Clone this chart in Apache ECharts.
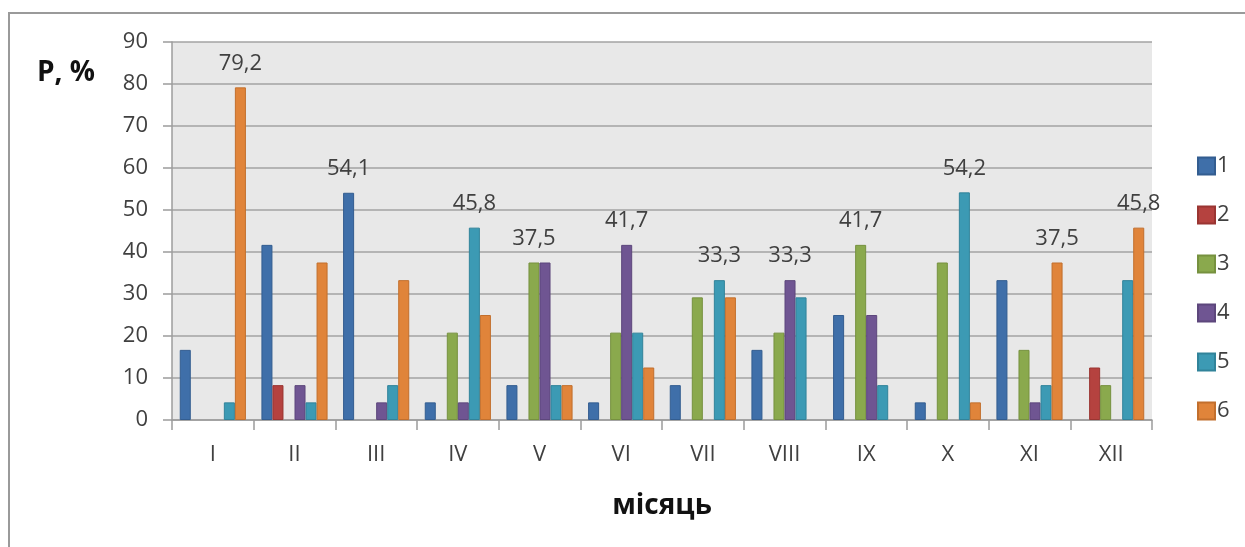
<!DOCTYPE html>
<html>
<head>
<meta charset="utf-8">
<script src="https://cdn.jsdelivr.net/npm/echarts@6/dist/echarts.min.js"></script>
<style>
  html, body { margin: 0; padding: 0; background: #fff; }
  #chart { width: 1245px; height: 547px; }
</style>
</head>
<body>
<div id="chart"></div>
<script>
// Months (Roman numerals) on the category axis
const months = ['I', 'II', 'III', 'IV', 'V', 'VI', 'VII', 'VIII', 'IX', 'X', 'XI', 'XII'];

// Frequency P, % for each of the six groups
const group1 = [16.7, 41.7, 54.1, 4.2, 8.3, 4.2, 8.3, 16.7, 25.0, 4.2, 33.3, 0];
const group2 = [0, 8.3, 0, 0, 0, 0, 0, 0, 0, 0, 0, 12.5];
const group3 = [0, 0, 0, 20.8, 37.5, 20.8, 29.2, 20.8, 41.7, 37.5, 16.7, 8.3];
const group4 = [0, 8.3, 4.2, 4.2, 37.5, 41.7, 0, 33.3, 25.0, 0, 4.2, 0];
const group5 = [4.2, 4.2, 8.3, 45.8, 8.3, 20.8, 33.3, 29.2, 8.3, 54.2, 8.3, 33.3];
const group6 = [79.2, 37.5, 33.3, 25.0, 8.3, 12.5, 29.2, 0, 0, 4.2, 37.5, 45.8];

const seriesNames = ['1', '2', '3', '4', '5', '6'];
const seriesValues = [group1, group2, group3, group4, group5, group6];

// Monthly maximum that carries a value label: [group index, month index]
const labelled = [[5, 0], [0, 2], [4, 3], [2, 4], [3, 5], [4, 6], [3, 7], [2, 8], [4, 9], [5, 10], [5, 11]];

// Y axis ticks
const yMin = 0, yMax = 90, yStep = 10;

const fills   = ['#3f6fa9', '#b5423f', '#8aa94d', '#6f5592', '#3c9ab4', '#e0843a'];
const borders = ['#335d90', '#9a3532', '#76913f', '#5d477c', '#31839a', '#c26f2d'];

const FONT = '"Open Sans", sans-serif';

const series = seriesValues.map((vals, si) => ({
  name: seriesNames[si],
  type: 'bar',
  barGap: '0%',
  barCategoryGap: '19%',
  itemStyle: { color: fills[si], borderColor: borders[si], borderWidth: 1 },
  data: vals.map((v, mi) => {
    const item = { value: v };
    // empty bars get no outline, so nothing shows on the baseline
    if (v === 0) item.itemStyle = { borderWidth: 0 };
    if (labelled.some(p => p[0] === si && p[1] === mi)) item.label = { show: true };
    return item;
  }),
  label: {
    show: false,
    position: 'top',
    distance: 13,
    fontFamily: FONT,
    fontSize: 22,
    color: '#404040',
    formatter: p => p.value.toFixed(1).replace('.', ',')
  },
  emphasis: { disabled: true }
}));

const chart = echarts.init(document.getElementById('chart'), null, { renderer: 'canvas' });
chart.setOption({
  animation: false,
  backgroundColor: '#ffffff',
  textStyle: { fontFamily: FONT },
  grid: {
    left: 172, right: 93, top: 42, bottom: 127,
    show: true, backgroundColor: '#e8e8e8', borderWidth: 0
  },
  legend: {
    orient: 'vertical',
    left: 1192,
    top: 150,
    itemWidth: 17,
    itemHeight: 17,
    itemGap: 27,
    icon: 'rect',
    textStyle: { fontFamily: FONT, fontSize: 22, lineHeight: 17, height: 17, color: '#404040', padding: [0, 0, 0, -3] },
    data: seriesNames
  },
  xAxis: {
    type: 'category',
    data: months,
    boundaryGap: true,
    name: 'місяць',
    nameLocation: 'middle',
    nameGap: 72,
    nameTextStyle: { fontFamily: FONT, fontSize: 28, fontWeight: 'bold', color: '#111' },
    axisLine: { lineStyle: { color: '#9c9c9c', width: 1.5 } },
    axisTick: { show: true, alignWithLabel: false, length: 10, lineStyle: { color: '#9c9c9c', width: 1.5 } },
    axisLabel: { fontFamily: FONT, fontSize: 22, color: '#404040', margin: 24 },
    splitLine: { show: false }
  },
  yAxis: {
    type: 'value',
    min: yMin,
    max: yMax,
    interval: yStep,
    axisLine: { show: true, lineStyle: { color: '#9c9c9c', width: 1.5 } },
    axisTick: { show: true, length: 9, lineStyle: { color: '#9c9c9c', width: 1.5 } },
    axisLabel: { fontFamily: FONT, fontSize: 22, color: '#404040', margin: 24 },
    splitLine: { show: true, lineStyle: { color: '#a3a3a3', width: 1.5 } }
  },
  graphic: [
    {
      type: 'rect',
      silent: true,
      shape: { x: 9, y: 13, width: 1400, height: 700 },
      style: { fill: 'none', stroke: '#9a9a9a', lineWidth: 2 }
    },
    {
      type: 'text',
      silent: true,
      left: 37,
      top: 59,
      style: { text: 'P, %', fontFamily: FONT, fontSize: 28, fontWeight: 'bold', fill: '#111' }
    }
  ],
  series: series
});
</script>
</body>
</html>
